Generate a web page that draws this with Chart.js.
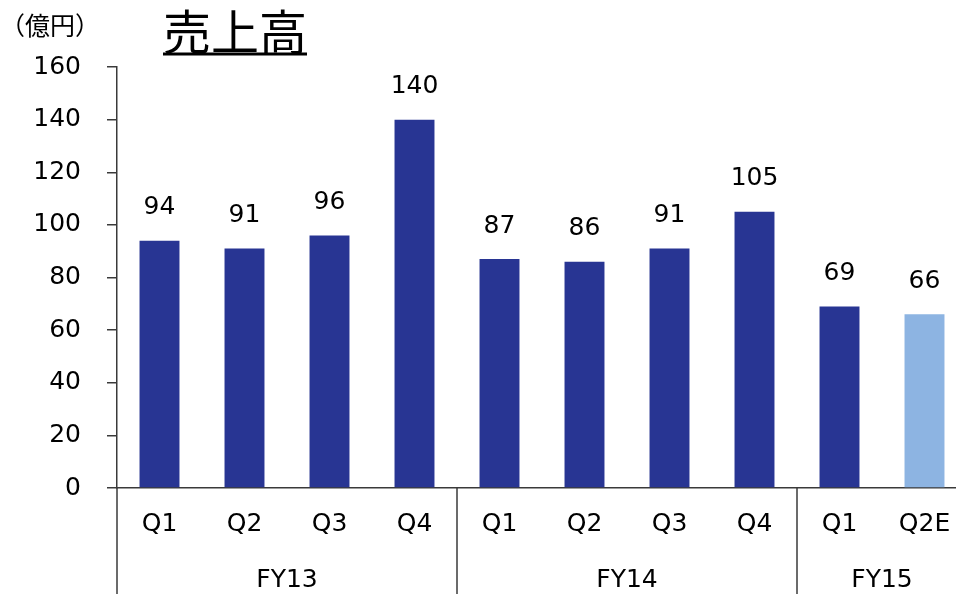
<!DOCTYPE html>
<html>
<head>
<meta charset="utf-8">
<script src="https://cdn.jsdelivr.net/npm/chart.js@4"></script>
<style>
  html, body { margin: 0; padding: 0; background: #fff; overflow: hidden; }
  #wrap { width: 990px; height: 594px; }
</style>
</head>
<body>
<div id="wrap"><canvas id="salesChart" width="990" height="594"></canvas></div>
<script>
const quarters = ["Q1", "Q2", "Q3", "Q4", "Q1", "Q2", "Q3", "Q4", "Q1", "Q2E"];
const sales = [94, 91, 96, 140, 87, 86, 91, 105, 69, 66];
const fiscalYears = ["FY13", "FY14", "FY15"];
const quartersPerYear = [4, 4, 2];
const yTicks = [0, 20, 40, 60, 80, 100, 120, 140, 160];

const NAVY = "#283593";
const LIGHT = "#8db4e2";
const LINE = "#3a3a3a";
const FONT = "'DejaVu Sans', Verdana, sans-serif";
const JP = "'Noto Sans CJK JP', sans-serif";

const barColors = quarters.map(q => q.endsWith("E") ? LIGHT : NAVY);

// value labels above the bars, fiscal-year groups under the axis, title
const decorations = {
  id: "decorations",
  afterDatasetsDraw(chart) {
    const ctx = chart.ctx;
    const meta = chart.getDatasetMeta(0);
    ctx.save();
    ctx.fillStyle = "#000";
    ctx.font = "25px " + FONT;
    ctx.textAlign = "center";
    ctx.textBaseline = "middle";
    meta.data.forEach((bar, i) => {
      ctx.fillText(String(sales[i]), bar.x, bar.y - 33);
    });
    ctx.restore();
  },
  afterDraw(chart) {
    const ctx = chart.ctx;
    const x = chart.scales.x;
    const area = chart.chartArea;
    const half = (x.getPixelForValue(1) - x.getPixelForValue(0)) / 2;
    const bottom = chart.height;

    ctx.save();
    ctx.strokeStyle = LINE;
    ctx.lineWidth = 1.5;
    ctx.fillStyle = "#000";
    ctx.font = "25px " + FONT;
    ctx.textAlign = "center";
    ctx.textBaseline = "middle";

    let start = 0;
    fiscalYears.forEach((fy, g) => {
      const left = x.getPixelForValue(start) - half;
      const right = x.getPixelForValue(start + quartersPerYear[g] - 1) + half;
      ctx.beginPath();
      ctx.moveTo(left, area.bottom);
      ctx.lineTo(left, bottom);
      ctx.stroke();
      ctx.fillText(fy, (left + right) / 2, area.bottom + 92);
      start += quartersPerYear[g];
    });

    // unit
    ctx.textAlign = "left";
    ctx.font = "25px " + JP;
    ctx.fillText("（億円）", 0, 25);

    // title with underline
    ctx.font = "48px " + JP;
    ctx.textAlign = "center";
    ctx.fillText("売上高", 235, 32);
    const w = ctx.measureText("売上高").width;
    ctx.lineWidth = 3;
    ctx.strokeStyle = "#000";
    ctx.beginPath();
    ctx.moveTo(235 - w / 2, 54);
    ctx.lineTo(235 + w / 2, 54);
    ctx.stroke();
    ctx.restore();
  }
};

new Chart(document.getElementById("salesChart"), {
  type: "bar",
  data: {
    labels: quarters,
    datasets: [{
      data: sales,
      backgroundColor: barColors,
      categoryPercentage: 1,
      barPercentage: 0.47
    }]
  },
  options: {
    responsive: false,
    animation: false,
    devicePixelRatio: 1,
    layout: { padding: { top: 67, right: 23, left: 0, bottom: 0 } },
    plugins: {
      legend: { display: false },
      tooltip: { enabled: false },
      title: { display: false }
    },
    scales: {
      x: {
        grid: { display: false, drawTicks: false },
        border: { color: LINE, width: 1.5 },
        ticks: {
          color: "#000",
          font: { family: FONT, size: 25 },
          padding: 21,
          maxRotation: 0,
          autoSkip: false
        },
        afterFit(scale) { scale.height = 106; }
      },
      y: {
        min: 0,
        max: 160,
        afterBuildTicks(scale) { scale.ticks = yTicks.map(v => ({ value: v })); },
        grid: { drawOnChartArea: false, drawTicks: true, tickLength: 10, tickColor: LINE, lineWidth: 1.5 },
        border: { color: LINE, width: 1.5 },
        ticks: {
          color: "#000",
          font: { family: FONT, size: 25 },
          padding: 26
        },
        afterFit(scale) { scale.width = 117; }
      }
    }
  },
  plugins: [decorations]
});
</script>
</body>
</html>
